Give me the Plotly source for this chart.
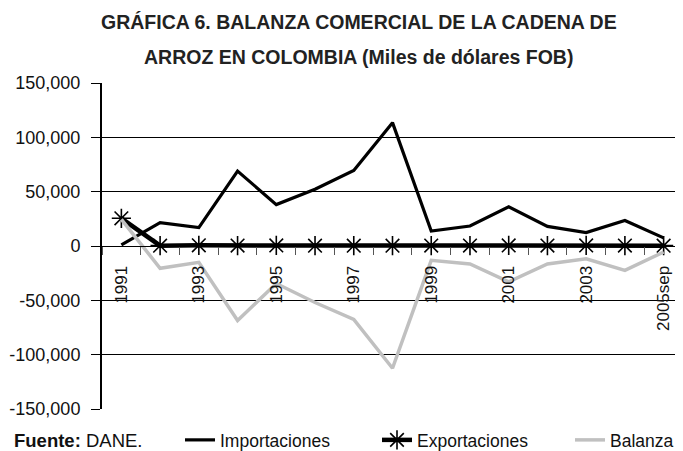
import plotly.graph_objects as go

categorias = ["1991", "1992", "1993", "1994", "1995", "1996", "1997", "1998",
              "1999", "2000", "2001", "2002", "2003", "2004", "2005sep"]
etiquetas_x = ["1991", "", "1993", "", "1995", "", "1997", "",
               "1999", "", "2001", "", "2003", "", "2005sep"]
importaciones = [1000, 21500, 16900, 69000, 38100, 52200, 69500, 113500,
                 13800, 18400, 36000, 18000, 12300, 23400, 7500]
exportaciones = [25500, 300, 600, 400, 500, 300, 300, 300,
                 400, 400, 500, 400, 500, 400, 300]
balanza = [24500, -20500, -15000, -68500, -34500, -52000, -67500, -112500,
           -13200, -16500, -33000, -16500, -11800, -22500, -5500]
y_vals = [150000, 100000, 50000, 0, -50000, -100000, -150000]
y_text = ["150,000", "100,000", "50,000", "0", "-50,000", "-100,000", "-150,000"]

FONT = "Liberation Sans, Arial, sans-serif"
OFF = 8  # default page body margin of the HTML page
W, H = 683 - OFF, 451 - OFF
L, R, T, B = 102 - OFF, 0, 83 - OFF, 42
PW, PH = W - L - R, H - T - B


def px_x(px):
    return (px - OFF - L) / PW


def px_y(py):
    return (H - B - (py - OFF)) / PH


fig = go.Figure()
fig.add_trace(go.Scatter(x=categorias, y=importaciones, name="Importaciones",
                         mode="lines", line=dict(color="black", width=3.2),
                         legend="legend"))
fig.add_trace(go.Scatter(x=categorias, y=exportaciones, name="Exportaciones",
                         mode="lines+markers", line=dict(color="black", width=4.5),
                         marker=dict(symbol="asterisk-open", size=16,
                                     line=dict(color="black", width=1.6)),
                         legend="legend2"))
fig.add_trace(go.Scatter(x=categorias, y=balanza, name="Balanza",
                         mode="lines", line=dict(color="#c0c0c0", width=3.5),
                         legend="legend3"))

leg_common = dict(orientation="h", xref="container", yref="container",
                  xanchor="left", yanchor="middle", y=1 - (440 - OFF) / H,
                  font=dict(size=17.5, family=FONT, color="#111111"),
                  bgcolor="rgba(0,0,0,0)", borderwidth=0)

fig.update_layout(
    width=W, height=H,
    margin=dict(l=L, r=R, t=T, b=B, autoexpand=False),
    paper_bgcolor="white", plot_bgcolor="white",
    font=dict(family=FONT, color="#111111", size=16),
    showlegend=True,
    legend=dict(x=(220 - OFF - 40) / W, **leg_common),
    legend2=dict(x=(417 - OFF - 40) / W, **leg_common),
    legend3=dict(x=(610 - OFF - 40) / W, **leg_common),
    xaxis=dict(type="category", range=[-0.5, 14.5], anchor="free", position=0.5,
               tickvals=categorias, ticktext=etiquetas_x, tickangle=-90,
               ticks="outside", ticklen=8, tickcolor="#555555", tickwidth=1,
               tickson="boundaries", showgrid=False, showline=True,
               linecolor="black", linewidth=1, ticklabelstandoff=12,
               tickfont=dict(family=FONT, size=17, color="#111111")),
    yaxis=dict(range=[-150000, 150000], tickvals=y_vals, ticktext=y_text,
               showgrid=True, gridcolor="black", gridwidth=1.3,
               zeroline=False, showline=True, linecolor="black", linewidth=2,
               ticks="outside", ticklen=9, tickcolor="black", tickwidth=1.3,
               ticklabelstandoff=7,
               tickfont=dict(family=FONT, size=18, color="#111111")),
)

fig.add_annotation(text="<b>GRÁFICA 6. BALANZA COMERCIAL DE LA CADENA DE</b>",
                   xref="paper", yref="paper", x=px_x(359), y=px_y(22),
                   showarrow=False, font=dict(size=19.5, family=FONT, color="#222222"),
                   xanchor="center", yanchor="middle")
fig.add_annotation(text="<b>ARROZ EN COLOMBIA (Miles de dólares FOB)</b>",
                   xref="paper", yref="paper", x=px_x(358), y=px_y(57),
                   showarrow=False, font=dict(size=19.5, family=FONT, color="#222222"),
                   xanchor="center", yanchor="middle")
fig.add_annotation(text="<b>Fuente:</b> DANE.",
                   xref="paper", yref="paper", x=px_x(12), y=px_y(440),
                   showarrow=False, font=dict(size=18.5, family=FONT, color="#111111"),
                   xanchor="left", yanchor="middle")

fig.write_html("out.html")
